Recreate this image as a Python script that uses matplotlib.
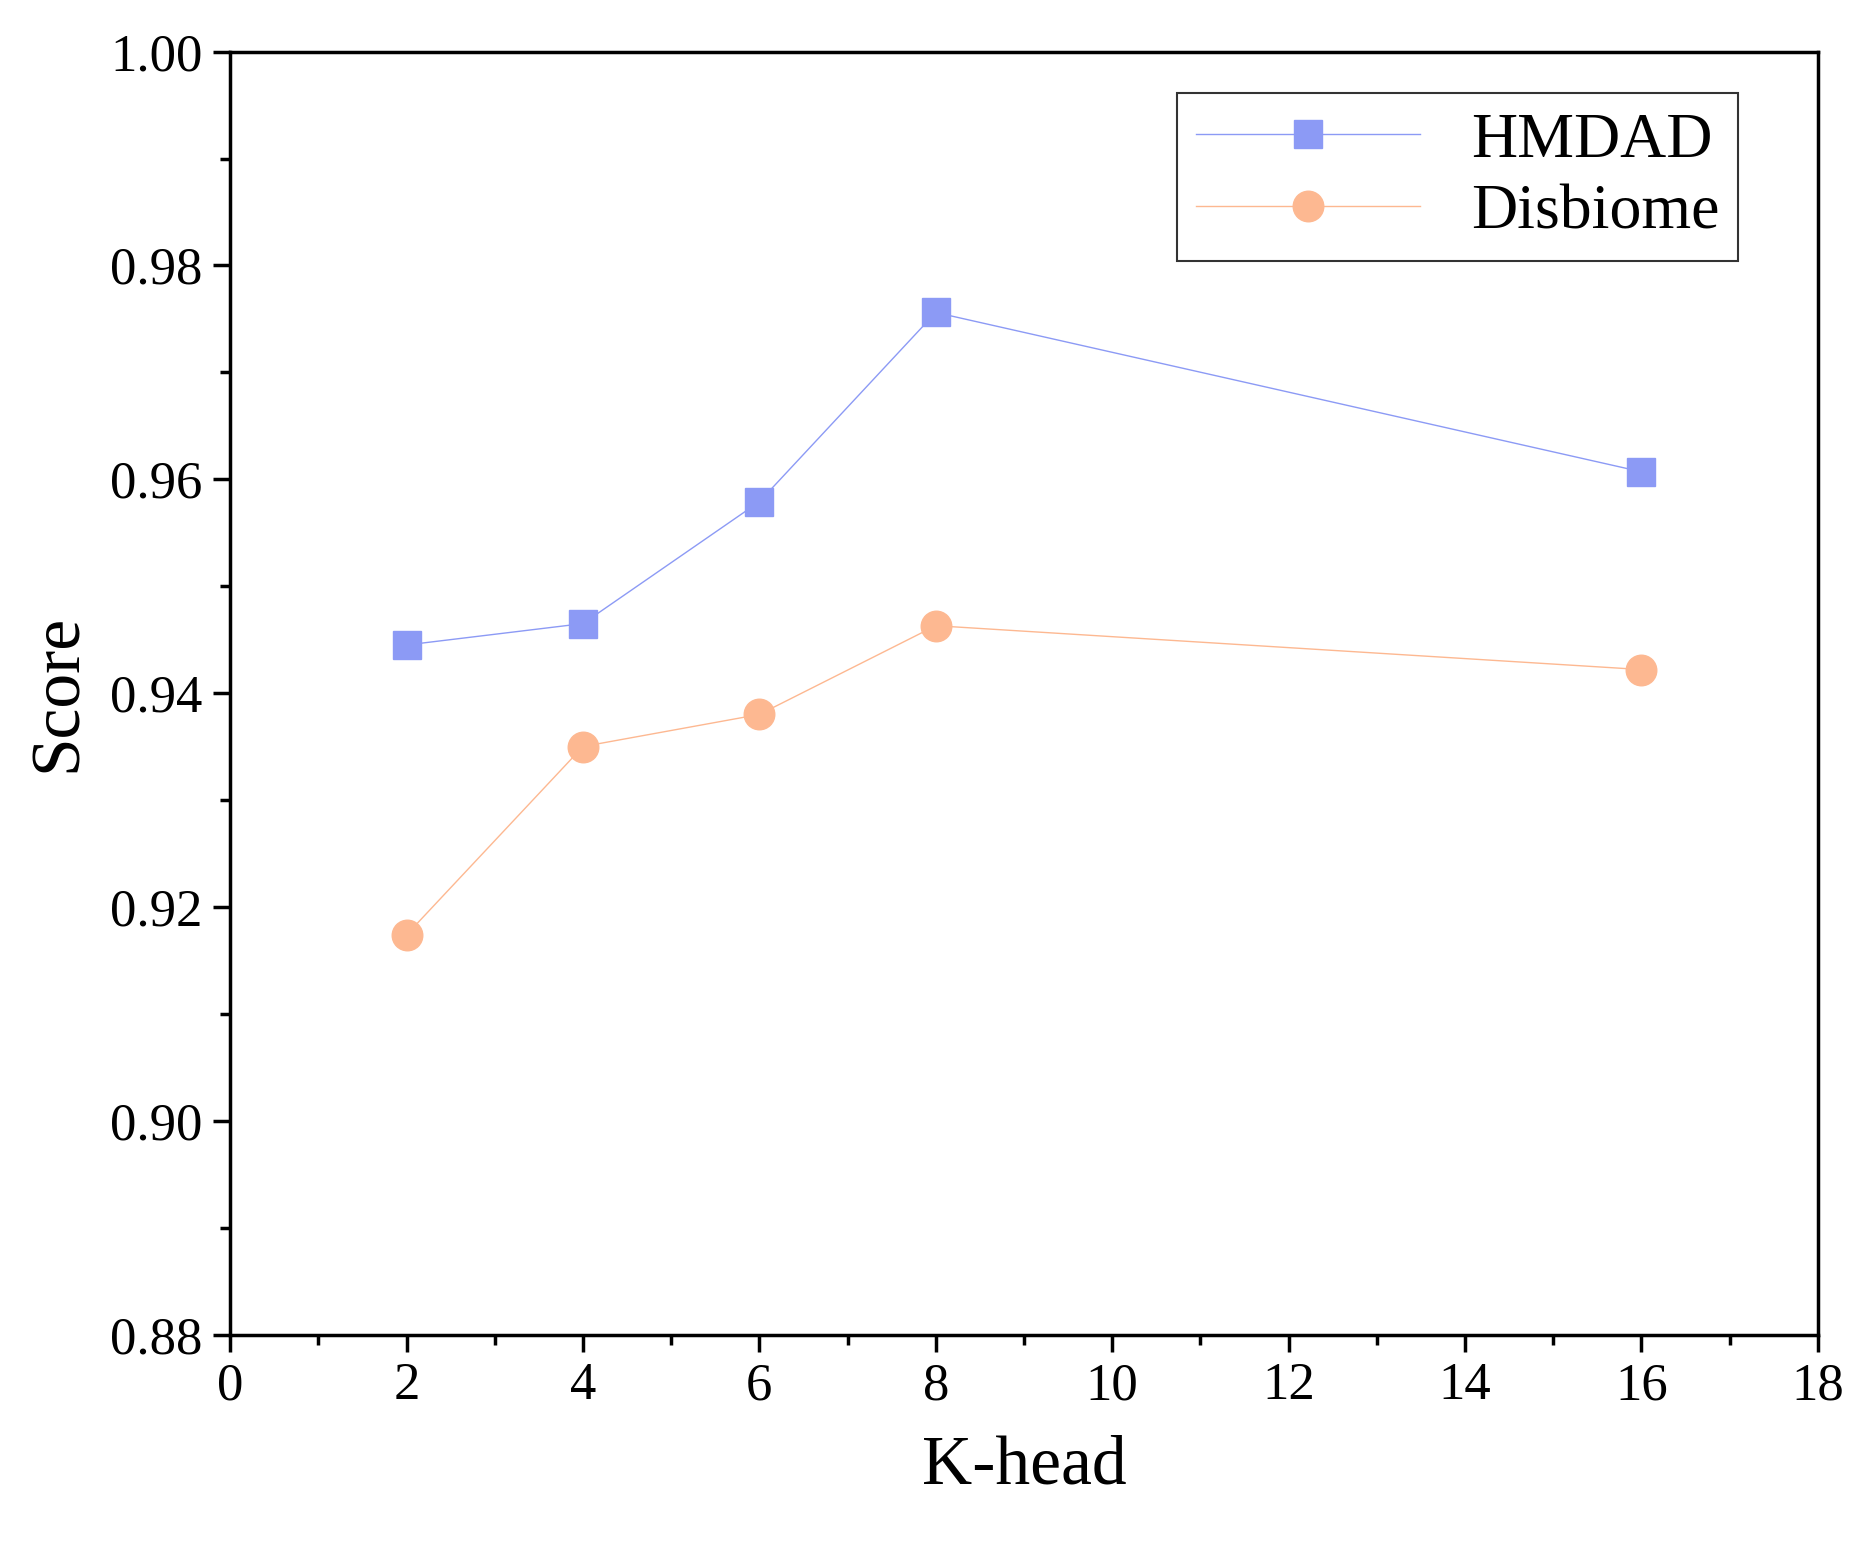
import matplotlib
import matplotlib.pyplot as plt
from matplotlib.ticker import MultipleLocator

k_head = [2, 4, 6, 8, 16]
hmdad = [0.9445, 0.9465, 0.9579, 0.9756, 0.9607]
disbiome = [0.9174, 0.9350, 0.9380, 0.9463, 0.9422]

matplotlib.rc('font', family='Liberation Serif', size=38)

fig = plt.figure(figsize=(18.72, 15.41), dpi=100)
ax = fig.add_axes([0.123, 0.134, 0.848, 0.8325])

ax.plot(k_head, hmdad, color='#8c9af5', lw=1, marker='s', ms=20, label='HMDAD')
ax.plot(k_head, disbiome, color='#fdb891', lw=1, marker='o', ms=22, label='Disbiome')

ax.set_xlim(0, 18)
ax.set_ylim(0.88, 1.00)
ax.xaxis.set_major_locator(MultipleLocator(2))
ax.xaxis.set_minor_locator(MultipleLocator(1))
ax.yaxis.set_major_locator(MultipleLocator(0.02))
ax.yaxis.set_minor_locator(MultipleLocator(0.01))
ax.yaxis.set_major_formatter(matplotlib.ticker.FormatStrFormatter('%.2f'))
ax.tick_params(which='major', direction='out', length=12, width=2.5, pad=8)
ax.tick_params(which='minor', direction='out', length=7, width=2.5)
for s in ax.spines.values():
    s.set_linewidth(2.5)

ax.set_xlabel('K-head', fontsize=50, labelpad=18)
ax.set_ylabel('Score', fontsize=50, labelpad=14)

leg = ax.legend(loc='upper right', fontsize=46, fancybox=False, edgecolor='black',
                handlelength=3.5, borderaxespad=0.0, borderpad=0.3,
                labelspacing=0.2, bbox_to_anchor=(0.95, 0.968))
leg.get_frame().set_linewidth(1.5)

fig.savefig('out.png', dpi=100)
